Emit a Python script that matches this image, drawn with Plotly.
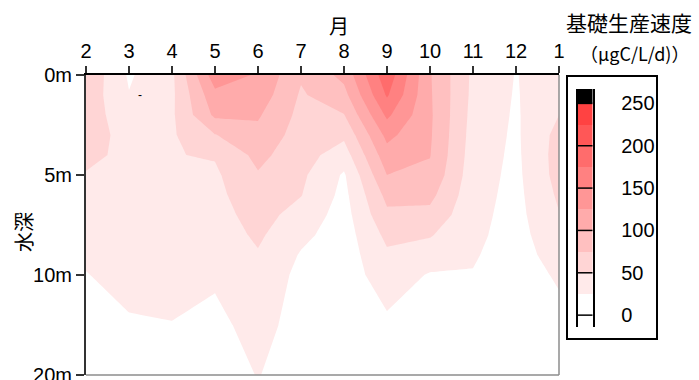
import plotly.graph_objects as go

# Sampling months (Feb .. Jan) and sampling depths in metres
months = ["2", "3", "4", "5", "6", "7", "8", "9", "10", "11", "12", "1"]
depths = [0, 1, 2, 3, 4, 5, 6, 7, 8, 9, 10, 15, 20]

# Primary production rate (µgC/L/d); one row per depth, one column per month
rate = [
    [70, 22, 45, 140, 122, 78, 107, 192, 102, 45, 24, 40],   # 0 m
    [66, 26, 45, 118, 115, 72, 92, 178, 103, 44, 23, 45],    # 1 m
    [62, 36, 46, 105, 103, 68, 74, 155, 104, 42, 22, 50],    # 2 m
    [58, 44, 47, 74, 93, 64, 55, 132, 103, 40, 21, 58],      # 3 m
    [54, 46, 49, 52, 82, 60, 38, 115, 101, 38, 20, 60],      # 4 m
    [49, 45, 48, 46, 73, 55, 22, 100, 95, 36, 19, 59],       # 5 m
    [44, 43, 46, 43, 67, 51, 18, 82, 82, 34, 18, 54],        # 6 m
    [39, 41, 43, 40, 60, 40, 15, 70, 68, 32, 17, 49],        # 7 m
    [34, 39, 41, 37, 54, 31, 13, 56, 52, 30, 16, 42],        # 8 m
    [29, 37, 39, 34, 48, 23, 12, 46, 38, 27, 15, 35],        # 9 m
    [24, 34, 36, 29, 44, 18, 12, 38, 23, 24, 14, 28],        # 10 m
    [16, 22, 24, 18, 35, 14, 10, 20, 15, 16, 10, 18],        # 15 m
    [10, 15, 15, 12, 26, 12, 8, 14, 10, 10, 8, 12],          # 20 m
]

# Contour levels and the fill colour of each band (below 25 ... above 250)
levels = [0, 25, 50, 75, 100, 125, 150, 175, 200, 225, 250]
band_colors = ["#ffffff", "#ffeaea", "#ffd5d5", "#ffc0c0", "#ffabab", "#ff9696",
               "#ff8181", "#ff6c6c", "#ff5757", "#ff4242", "#000000"]
legend_ticks = [0, 50, 100, 150, 200, 250]
depth_ticks = [0, 5, 10, 20]

W, H = 699, 380
LATIN = "Liberation Sans, Arial, sans-serif"
CJK = "Noto Sans CJK JP, sans-serif"


def depth_axis(d):
    """Depth axis: linear to 10 m, then half scale from 10 m to 20 m."""
    return d if d <= 10 else 10 + (d - 10) / 2


def px_x(p):
    return p / W


def px_y(p):
    return 1 - p / H


x_pos = list(range(2, 2 + len(months)))
y_pos = [depth_axis(d) for d in depths]
colorscale = [[i / (len(band_colors) - 1), c] for i, c in enumerate(band_colors)]

fig = go.Figure()

fig.add_trace(go.Contour(
    x=x_pos, y=y_pos, z=rate,
    colorscale=colorscale,
    autocontour=False,
    contours=dict(start=levels[1], end=levels[-1], size=levels[1] - levels[0], coloring="fill"),
    line=dict(width=0, smoothing=0),
    showscale=False,
    hoverinfo="skip",
))

# Colour legend drawn as a one-column heatmap of the bands
bar_lo, bar_hi = -14, 267
edges = [bar_lo] + levels + [bar_hi]
band_index = [0] + list(range(len(levels)))
fig.add_trace(go.Heatmap(
    x=[-0.5, 0.5], y=edges, z=[[k] for k in band_index],
    zmin=0, zmax=len(band_colors) - 1,
    colorscale=colorscale, showscale=False, hoverinfo="skip",
    xaxis="x2", yaxis="y2",
))

shapes = []
for v in legend_ticks:
    shapes.append(dict(type="line", xref="x2 domain", yref="y2", x0=0, x1=1, y0=v, y1=v,
                       line=dict(color="black", width=1.5)))
# gray bottom / right frame of the plot area
shapes.append(dict(type="line", xref="x domain", yref="y domain", x0=0, x1=1, y0=0, y1=0,
                   line=dict(color="#8c8c8c", width=1.5)))
shapes.append(dict(type="line", xref="x domain", yref="y domain", x0=1, x1=1, y0=0, y1=1,
                   line=dict(color="#8c8c8c", width=1.5)))
# legend frame
shapes.append(dict(type="rect", xref="paper", yref="paper",
                   x0=px_x(567), x1=px_x(657), y0=px_y(339), y1=px_y(76),
                   line=dict(color="black", width=2), layer="above"))


def label(text, x, y, size, **kw):
    return dict(text=text, x=px_x(x), y=px_y(y), xref="paper", yref="paper",
                xanchor="center", yanchor="middle", showarrow=False,
                font=dict(family=CJK, size=size, color="black"), **kw)


annotations = [
    label("月", 339, 26, 20),
    label("基礎生産速度", 629, 22, 21),
    label("（μgC/L/d)）", 634, 53, 18),
    label("水深", 23, 232, 20, textangle=-90),
    dict(text="-", x=3.26, y=1.0, xref="x", yref="y", xanchor="center", yanchor="middle",
         showarrow=False, font=dict(family=LATIN, size=12, color="black")),
]

fig.update_layout(
    width=W, height=H,
    margin=dict(l=0, r=0, t=0, b=0, pad=0, autoexpand=False),
    paper_bgcolor="white", plot_bgcolor="white",
    showlegend=False,
    xaxis=dict(
        domain=[px_x(86), px_x(559)], range=[x_pos[0], x_pos[-1]],
        side="top", tickvals=x_pos, ticktext=months,
        ticks="outside", ticklen=7, tickwidth=1.5, tickcolor="#333",
        showline=True, linecolor="black", linewidth=1.5,
        showgrid=False, zeroline=False, automargin=False,
        ticklabelstandoff=0,
        tickfont=dict(family=LATIN, size=20, color="black"),
    ),
    yaxis=dict(
        domain=[1 - 375 / H, 1 - 75 / H], range=[depth_axis(depths[-1]), 0],
        tickvals=[depth_axis(d) for d in depth_ticks],
        ticktext=[f"{d}m" for d in depth_ticks],
        ticks="outside", ticklen=8, tickwidth=1.5, tickcolor="#333",
        showline=True, linecolor="#333", linewidth=2,
        showgrid=False, zeroline=False, automargin=False,
        ticklabeloverflow="allow",
        tickfont=dict(family=LATIN, size=20, color="black"),
    ),
    xaxis2=dict(domain=[px_x(578), px_x(592.5)], range=[-0.5, 0.5], visible=False,
                anchor="y2"),
    yaxis2=dict(
        domain=[1 - 327 / H, 1 - 89 / H], range=[bar_lo, bar_hi], anchor="x2",
        side="right", tickvals=legend_ticks, ticktext=[str(v) for v in legend_ticks],
        ticks="", showline=True, mirror=True, linecolor="black", linewidth=1.5,
        showgrid=False, zeroline=False, ticklabelstandoff=23, automargin=False,
        tickfont=dict(family=LATIN, size=20, color="black"),
    ),
    shapes=shapes,
    annotations=annotations,
)

fig.write_html("out.html")
